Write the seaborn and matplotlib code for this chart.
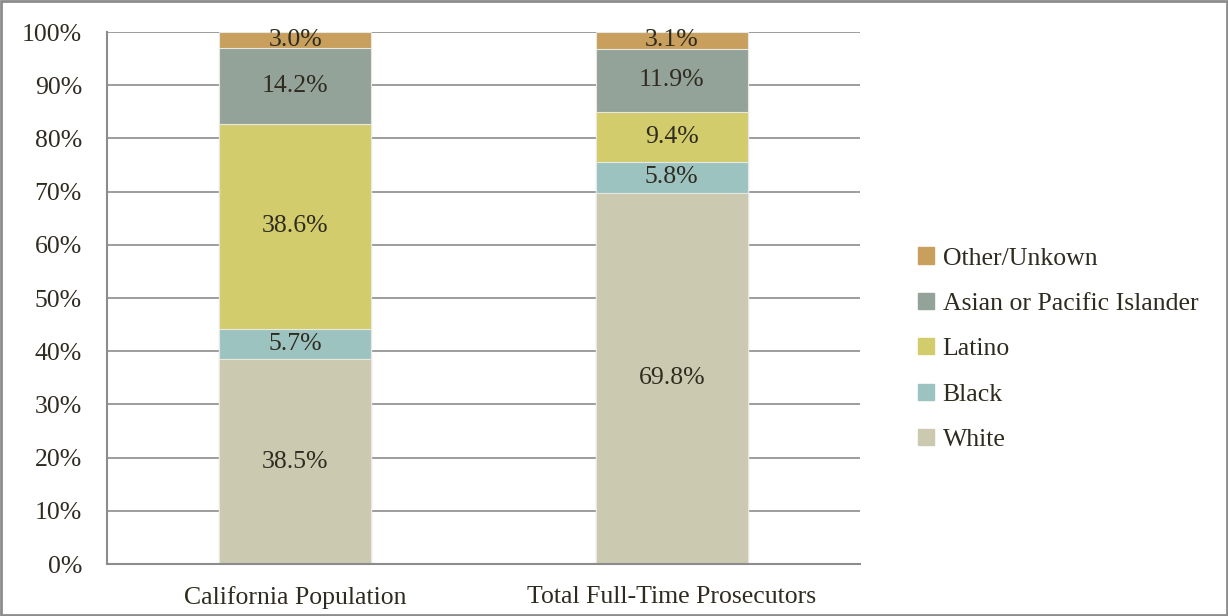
import matplotlib
matplotlib.use("Agg")
import matplotlib.pyplot as plt
import matplotlib.patches as mpatches
import numpy as np
import pandas as pd
import seaborn as sns

groups = ["California Population", "Total Full-Time Prosecutors"]
races = ["White", "Black", "Latino", "Asian or Pacific Islander", "Other/Unkown"]
white = [38.5, 69.8]
black = [5.7, 5.8]
latino = [38.6, 9.4]
asian = [14.2, 11.9]
other = [3.0, 3.1]
COLORS = ["#CBC9B0", "#9DC3C1", "#D3CC6C", "#94A39A", "#C89F5C"]
TEXT = "#2F2B20"
GRID = "#8C8C8C"
FS = 18.5

sns.set_style("white")
plt.rcParams["font.family"] = ["Liberation Serif", "DejaVu Serif"]

df = pd.DataFrame({"Group": groups, "White": white, "Black": black,
                   "Latino": latino, "Asian or Pacific Islander": asian,
                   "Other/Unkown": other})
cum = df[races].cumsum(axis=1)

fig = plt.figure(figsize=(12.28, 6.16), dpi=100)
ax = fig.add_axes([0.0871, 0.0844, 0.6132, 0.8636])

# draw from top layer down so each cumulative bar covers the right span
for race, color in reversed(list(zip(races, COLORS))):
    sns.barplot(x=df["Group"], y=cum[race], color=color, width=0.404,
                saturation=1, ax=ax, zorder=2, edgecolor="#E8E8E0", linewidth=0.8)

# segment labels
for i in range(len(groups)):
    base = 0
    for race in races:
        v = df.loc[i, race]
        ax.text(i, base + v / 2, "{:.1f}%".format(v), ha="center", va="center",
                fontsize=FS, color=TEXT, zorder=3)
        base += v

ax.set_ylim(0, 100)
ax.set_yticks(np.arange(0, 101, 10))
ax.set_yticklabels(["{}%".format(t) for t in range(0, 101, 10)])
ax.yaxis.grid(True, color=GRID, linewidth=1.2, zorder=0)
ax.set_axisbelow(True)
ax.tick_params(axis="y", length=0, labelsize=FS, colors=TEXT, pad=18)
ax.tick_params(axis="x", length=0, labelsize=FS, colors=TEXT, pad=16)
ax.set_xlabel("")
ax.set_ylabel("")
for s in ["top", "right"]:
    ax.spines[s].set_visible(False)
for s in ["left", "bottom"]:
    ax.spines[s].set_color(GRID)
    ax.spines[s].set_linewidth(1.5)

handles = [mpatches.Patch(color=c, label=r) for r, c in zip(races, COLORS)]
leg = fig.legend(handles=handles[::-1], loc="center left",
                 bbox_to_anchor=(0.729, 0.433), frameon=False, fontsize=FS,
                 handlelength=0.6, handleheight=0.6, handletextpad=0.35,
                 labelspacing=0.9, labelcolor=TEXT)

fig.patches.append(mpatches.Rectangle((0.001, 0.001), 0.998, 0.997,
                                      transform=fig.transFigure, fill=False,
                                      edgecolor=GRID, linewidth=2))

fig.savefig("out.png", dpi=100)
